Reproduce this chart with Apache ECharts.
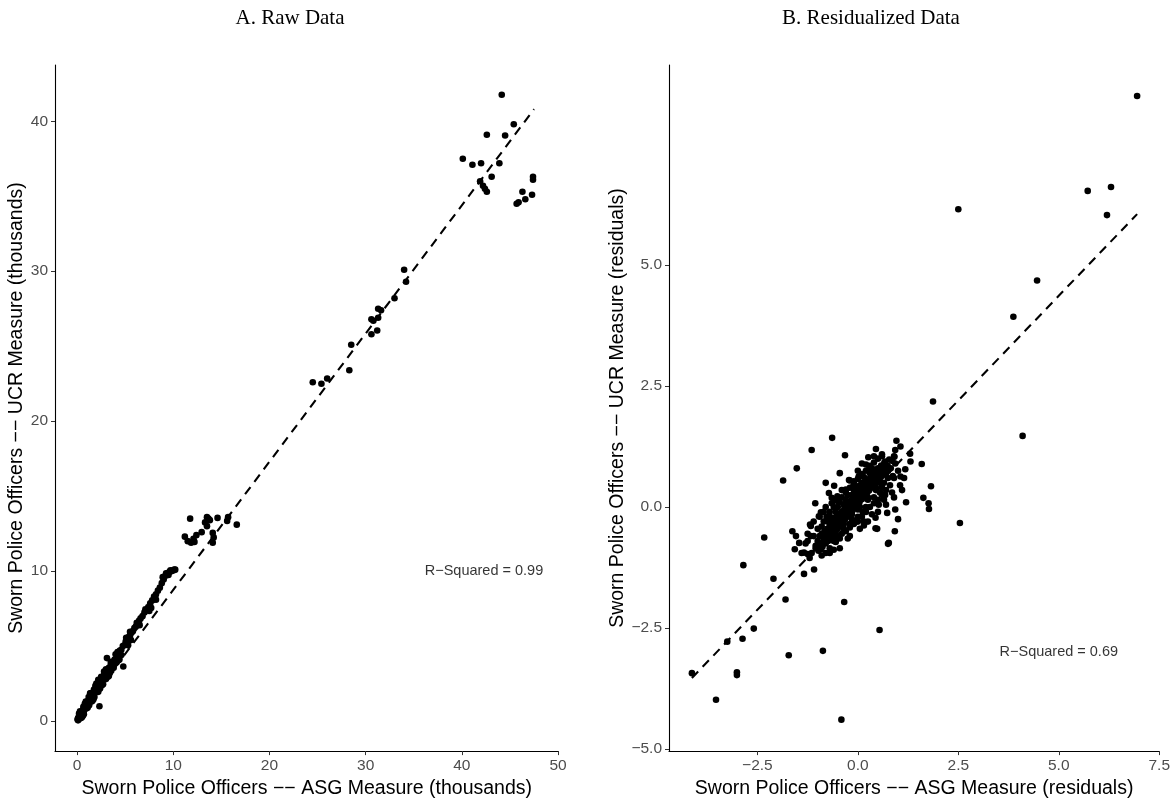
<!DOCTYPE html>
<html><head><meta charset="utf-8">
<script src="https://cdn.jsdelivr.net/npm/echarts@6/dist/echarts.min.js"></script>
<style>html,body{margin:0;padding:0;background:#fff}#c{width:1173px;height:804px}</style>
</head><body><div id="c"></div>
<script>
// ---------- Panel A: raw data (thousands) ----------
const rawLow = [
[0.05,0.10],[0.08,0.15],[0.10,0.05],[0.12,0.20],[0.15,0.12],[0.18,0.30],[0.20,0.18],[0.22,0.25],[0.25,0.35],[0.28,0.22],
[0.30,0.40],[0.33,0.30],[0.35,0.45],[0.38,0.36],[0.40,0.50],[0.42,0.38],[0.45,0.55],[0.48,0.45],[0.50,0.60],[0.52,0.48],
[0.55,0.65],[0.58,0.55],[0.60,0.72],[0.63,0.60],[0.66,0.80],[0.70,0.68],[0.72,0.85],[0.75,0.78],[0.78,0.90],[0.80,0.82],
[0.83,0.98],[0.86,0.88],[0.90,1.05],[0.92,0.95],[0.95,1.12],[0.98,1.00],[1.00,1.20],[1.03,1.08],[1.06,1.25],[1.10,1.12],
[1.13,1.32],[1.16,1.20],[1.20,1.40],[1.23,1.25],[1.26,1.45],[1.30,1.35],[1.33,1.55],[1.37,1.42],[1.40,1.60],[1.44,1.50],
[1.48,1.70],[1.52,1.55],[1.55,1.78],[1.60,1.65],[1.63,1.85],[1.68,1.72],[1.72,1.95],[1.76,1.80],[1.80,2.02],[1.85,1.90],
[1.90,2.15],[1.95,2.00],[2.00,2.25],[2.05,2.10],[2.10,2.35],[2.15,2.20],[2.20,2.45],[2.25,2.30],[2.30,2.55],[2.36,2.40],
[2.42,2.70],[2.48,2.55],[2.55,2.80],[2.60,2.65],[2.68,2.95],[2.75,2.82],[2.82,3.10],[2.90,2.95],[2.98,3.20],[3.05,3.10],
[3.12,3.35],[3.20,3.25],[3.30,3.55],[3.40,3.50],[3.50,3.75],[3.60,3.70],[3.70,3.95],[3.80,3.85],[3.90,4.10],[4.00,4.05],
[4.15,4.35],[4.30,4.40],[4.45,4.70],[4.60,4.75],[4.75,5.00],[4.90,5.05],[5.05,5.30],[5.20,5.35],[5.35,5.60],[5.50,5.70],
[5.65,5.90],[5.80,6.00],[5.95,6.20],[6.10,6.30],[6.30,6.50],[6.45,6.70],[6.60,6.85],[6.80,7.00],[7.00,7.25],[7.20,7.40],
[7.40,7.60],[7.60,7.85],[7.80,8.05],[8.00,8.30],[8.20,8.45],[8.40,8.70],[8.60,8.90],[8.80,9.20],[9.00,9.45],[9.20,9.70],
[9.40,9.85],[9.60,9.95],[9.80,10.00],[10.00,10.05],[9.50,9.75],[8.90,9.60],[10.20,10.10],[9.25,9.85],[9.70,10.05],[10.10,10.10],
[1.50,1.30],[1.80,1.60],[2.10,1.95],[2.60,2.40],[2.00,2.50],[1.20,1.60],[0.90,1.30],[3.30,3.00],[3.60,3.90],[2.80,3.30],
[4.20,4.60],[4.40,4.10],[0.70,0.45],[1.00,0.85],[1.70,1.45],[2.40,2.20],[3.00,2.80],[3.55,3.35],[4.10,3.90],[5.30,5.05],
[2.32,0.99],[3.10,4.20],[4.80,3.64],[5.50,5.95],[7.70,7.55],[8.20,8.10],[0.30,0.65],[0.60,0.35],[1.35,1.85],[2.20,2.75],
[0.20,0.50],[0.50,0.25],[0.80,1.15],[1.10,0.90],[1.40,1.85],[1.60,1.35],[1.90,2.35],[2.20,1.95],[2.50,2.95],[2.70,2.45],
[3.00,3.45],[3.20,2.95],[3.50,3.95],[3.80,3.55],[4.00,4.45],[4.30,4.05],[0.40,0.20],[0.65,0.95],[1.25,1.05],[1.75,2.10],
[2.35,2.15],[2.90,3.30],[3.40,3.20],[4.60,4.40],[5.10,5.55],[5.60,5.40],[6.20,6.55],[6.50,6.40],[7.10,7.45],[7.50,7.35]
];
const rawMid = [
[11.75,13.5],[13.5,13.6],[13.65,13.5],[14.6,13.55],[15.7,13.6],[15.6,13.35],[16.6,13.1],[13.3,13.25],[11.2,12.3],[11.85,11.9],
[12.1,12.15],[12.4,12.4],[12.95,12.6],[14.1,12.55],[14.2,12.25],[14.1,11.9],[13.5,13.0],[11.5,12.0],[12.2,11.95],[13.8,13.4]
];
const rawUpper = [
[34.0,30.1],[34.2,29.3],[33.0,28.2],[31.3,27.5],[31.6,27.4],[30.6,26.8],[31.3,26.9],[30.8,26.7],[31.2,26.05],[30.6,25.8],
[28.5,25.1],[28.3,23.4],[24.5,22.6],[25.4,22.5],[26.0,22.85]
];
const rawTop = [
[44.15,41.77],[42.6,39.1],[44.5,39.05],[45.4,39.8],[40.1,37.5],[41.1,37.1],[42.0,37.2],[43.9,37.2],[43.1,36.3],[41.9,36.0],
[42.2,35.7],[42.4,35.5],[42.6,35.3],[47.4,36.3],[47.4,36.1],[46.3,35.3],[45.7,34.5],[45.9,34.6],[46.6,34.8],[47.3,35.1]
];
const rawFitASG = [0.05, 47.5];
const rawFitUCR = [0.25, 40.8];
const rawXTicks = [0, 10, 20, 30, 40, 50];
const rawYTicks = [0, 10, 20, 30, 40];
const rawNote = [42.3, 10.0, 'R\u2212Squared = 0.99'];

// ---------- Panel B: residualized data ----------
const resCore = [
[-1.05,-0.85],[-1.0,-0.7],[-0.98,-0.9],[-0.95,-0.6],[-0.92,-0.78],[-0.9,-0.55],[-0.88,-0.82],[-0.85,-0.68],[-0.83,-0.5],[-0.8,-0.75],
[-0.78,-0.6],[-0.76,-0.45],[-0.74,-0.7],[-0.72,-0.55],[-0.7,-0.38],[-0.68,-0.62],[-0.66,-0.48],[-0.64,-0.32],[-0.62,-0.58],[-0.6,-0.42],
[-0.58,-0.28],[-0.56,-0.5],[-0.54,-0.36],[-0.52,-0.2],[-0.5,-0.45],[-0.48,-0.3],[-0.46,-0.15],[-0.44,-0.38],[-0.42,-0.25],[-0.4,-0.1],
[-0.38,-0.32],[-0.36,-0.18],[-0.34,-0.05],[-0.32,-0.26],[-0.3,-0.12],[-0.28,0.02],[-0.26,-0.2],[-0.24,-0.06],[-0.22,0.08],[-0.2,-0.14],
[-0.18,0.0],[-0.16,0.14],[-0.14,-0.08],[-0.12,0.06],[-0.1,0.2],[-0.08,-0.02],[-0.06,0.12],[-0.04,0.26],[-0.02,0.04],[0.0,0.18],
[0.02,0.32],[0.04,0.1],[0.06,0.24],[0.08,0.38],[0.1,0.16],[0.12,0.3],[0.14,0.44],[0.16,0.22],[0.18,0.36],[0.2,0.5],
[0.22,0.28],[0.24,0.42],[0.26,0.56],[0.28,0.34],[0.3,0.48],[0.32,0.62],[0.34,0.4],[0.36,0.54],[0.38,0.68],[0.4,0.46],
[0.42,0.6],[0.44,0.74],[0.46,0.52],[0.48,0.66],[0.5,0.8],[0.52,0.58],[0.55,0.72],[0.58,0.86],[0.6,0.64],[0.63,0.78],
[0.66,0.92],[0.7,0.7],[0.74,0.85],[0.78,0.98],[0.82,0.8],[0.86,0.95],[0.9,1.05],
[-0.7,-0.2],[-0.5,0.0],[-0.3,0.15],[-0.1,0.35],[0.1,0.5],[0.3,0.7],[-0.6,-0.7],[-0.4,-0.55],[-0.2,-0.35],[0.0,-0.2],
[0.2,0.0],[0.4,0.2],[0.6,0.4],[-0.9,-0.4],[-0.55,-0.1],[0.15,0.62],[0.0,-0.05],[0.25,0.15],[0.45,0.35],[-0.15,-0.25],
[-0.35,-0.45],[-0.75,-0.3],[0.05,0.45],[0.35,0.8],[0.65,0.5],[-0.25,0.25],[-0.45,0.1],[0.55,0.3],[-0.05,-0.3],[-1.1,-0.6],
[-1.15,-0.95],[0.75,0.6],
[-1.0,-0.45],[-0.85,-0.3],[-0.7,-0.1],[-0.6,0.0],[-0.5,0.12],[-0.4,0.2],[-0.3,0.3],[-0.2,0.4],[-0.1,0.48],[0.0,0.58],
[0.1,0.68],[0.2,0.75],[0.3,0.85],[0.4,0.92],[0.5,1.0],[0.6,1.05],[-0.78,-0.2],[-0.65,0.08],[-0.35,0.05],[-0.15,0.25],
[-0.8,-0.95],[-0.7,-0.85],[-0.55,-0.72],[-0.45,-0.65],[-0.3,-0.5],[-0.2,-0.42],[-0.1,-0.35],[0.0,-0.3],[0.1,-0.2],[0.2,-0.1],
[0.3,0.0],[0.4,0.08],[0.5,0.15],[0.6,0.25],[0.7,0.35],[0.8,0.45],[0.9,0.6],[-0.6,-0.88],[0.35,-0.15],[0.15,-0.3],
[0.65,0.15],[0.85,0.3],[-0.25,-0.65],[1.0,0.75],
[-0.95,-0.75],[-0.85,-0.55],[-0.75,-0.65],[-0.65,-0.4],[-0.55,-0.55],[-0.45,-0.25],[-0.35,-0.35],[-0.25,-0.1],[-0.15,-0.15],[-0.05,0.05],
[0.05,0.0],[0.15,0.25],[0.25,0.2],[0.35,0.45],[0.45,0.4],[0.55,0.6],[0.65,0.7],[0.75,0.75],[-0.9,-1.0],[-0.7,-0.95],
[-1.25,-0.55],[-1.1,-0.3],[-0.95,-0.2],[-0.8,0.0],[-0.6,0.15],[-0.4,0.35],[-0.2,0.55],[0.0,0.75],[0.2,0.88],[0.4,1.05],
[-0.45,-0.85],[-0.2,-0.6],[0.05,-0.45],[0.25,-0.3],[0.5,-0.1],[0.7,0.05],[0.9,0.2],[1.05,0.45],[1.15,0.6],[-1.3,-0.75],
[-0.5,-0.62],[-0.02,0.4],[0.28,0.58],[-0.32,-0.02],[0.58,0.48],[-0.62,-0.22],[0.12,-0.1],[-0.12,0.42],[0.68,0.25],[-0.85,-0.1]
];
const resSpread = [
[1.87,2.18],[-0.64,1.43],[-1.15,1.18],[-0.32,1.07],[-1.52,0.80],[-1.86,0.55],[0.96,1.37],[0.93,1.18],[1.06,1.25],[0.91,1.04],
[0.26,1.03],[0.60,1.09],[0.29,0.82],[1.31,0.94],[1.59,0.89],[1.18,0.78],[0.87,0.64],[1.06,0.63],[1.82,0.43],[1.63,0.19],
[1.76,0.08],[1.77,-0.04],[0.73,0.84],[0.68,0.94],[0.93,0.90],[-0.59,0.44],[-0.72,0.29],[-1.06,0.08],[-0.92,-0.11],[-1.19,-0.36],
[-1.63,-0.50],[-1.54,-0.60],[-1.46,-0.74],[-1.25,-0.70],[0.48,-0.45],[0.92,-0.50],[0.77,-0.74],[0.93,-0.05],[0.73,-0.12],[0.52,0.05],
[0.15,-0.38],[0.44,-0.22],[0.02,0.63],[-0.22,0.56],[-0.10,0.53],[-0.30,0.36],[-0.51,0.22],[-2.33,-0.63],[-2.10,-1.48],[-1.34,-1.38],
[-1.09,-1.29],[2.54,-0.33],[0.75,-0.76],[0.44,-0.44],[-1.57,-0.87],[-1.34,-0.94],[-1.25,-0.97],[-1.05,-0.80],[-0.92,-0.87],[-1.17,-0.60],
[-0.97,-0.19],[-1.17,-0.39],[-0.65,0.19],[-2.85,-1.20],[-1.40,-0.95],[-1.20,-1.05],[1.10,0.35],[1.20,0.10],[1.00,-0.25],[-0.80,0.50],
[-0.45,0.70],[0.10,0.90],[0.45,1.20],[1.30,1.10]
];
const resTail = [
[-4.13,-3.43],[-3.53,-3.98],[-3.25,-2.78],[-2.87,-2.72],[-2.59,-2.51],[-3.01,-3.41],[-3.01,-3.47],[-1.80,-1.91],[-1.72,-3.06],[-0.87,-2.97],
[-0.34,-1.96],[-0.41,-4.39],[0.54,-2.54],
[6.95,8.49],[5.72,6.53],[6.30,6.61],[6.20,6.03],[2.50,6.15],[4.46,4.68],[3.87,3.93],[4.10,1.47]
];
const resFitASG = [-4.13, 6.95];
const resFitUCR = [-3.53, 6.05];
const resXTicks = [-2.5, 0, 2.5, 5, 7.5];
const resYTicks = [-5, -2.5, 0, 2.5, 5];
const resNote = [5.0, -3.0, 'R\u2212Squared = 0.69'];

// ---------- chart ----------
const SANS = 'Liberation Sans, Arial, sans-serif';
const fmt1 = v => v.toFixed(1).replace('-', '\u2212');
const fmt0 = v => String(v).replace('-', '\u2212');

function xAxisCfg(grid, min, max, ticks, f, name, gap) {
  return {
    gridIndex: grid, type: 'value', min: min, max: max,
    axisLine: {onZero: false, lineStyle: {color: '#000', width: 1.1}},
    axisTick: {customValues: ticks, length: 4, lineStyle: {color: '#333', width: 1}},
    axisLabel: {customValues: ticks, formatter: f, color: '#4d4d4d', fontSize: 15.5, fontFamily: SANS, margin: 7},
    splitLine: {show: false},
    name: name, nameLocation: 'middle', nameGap: gap,
    nameTextStyle: {color: '#000', fontSize: 19.5, fontFamily: SANS}
  };
}
function yAxisCfg(grid, min, max, ticks, f, name, gap) {
  return {
    gridIndex: grid, type: 'value', min: min, max: max,
    axisLine: {show: true, onZero: false, lineStyle: {color: '#000', width: 1.1}},
    axisTick: {show: true, customValues: ticks, length: 4, lineStyle: {color: '#333', width: 1}},
    axisLabel: {customValues: ticks, formatter: f, color: '#4d4d4d', fontSize: 15.5, fontFamily: SANS, margin: 7},
    splitLine: {show: false},
    name: name, nameLocation: 'middle', nameGap: gap, nameRotate: 90,
    nameTextStyle: {color: '#000', fontSize: 19.5, fontFamily: SANS}
  };
}
function pts(grid, data) {
  return {type: 'scatter', xAxisIndex: grid, yAxisIndex: grid, data: data,
    symbol: 'circle', symbolSize: 6.6, itemStyle: {color: '#000', opacity: 1}, silent: true, z: 2};
}
function fit(grid, xs, ys) {
  return {type: 'line', xAxisIndex: grid, yAxisIndex: grid, data: xs.map((x, i) => [x, ys[i]]),
    symbol: 'none', lineStyle: {color: '#000', width: 2.1, type: [9, 6.5]}, silent: true, z: 3};
}
function note(grid, n) {
  return {type: 'scatter', xAxisIndex: grid, yAxisIndex: grid, data: [[n[0], n[1]]], symbolSize: 0,
    label: {show: true, position: 'inside', formatter: n[2], color: '#000', fontSize: 14.5, fontFamily: SANS}, silent: true, z: 4};
}

const chart = echarts.init(document.getElementById('c'), null, {renderer: 'canvas'});
chart.setOption({
  animation: false,
  backgroundColor: '#fff',
  title: [
    {text: 'A. Raw Data', left: 285, top: 3, textAlign: 'center',
     textStyle: {fontFamily: 'Liberation Serif, serif', fontWeight: 'normal', fontSize: 21, color: '#000'}},
    {text: 'B. Residualized Data', left: 866, top: 3, textAlign: 'center',
     textStyle: {fontFamily: 'Liberation Serif, serif', fontWeight: 'normal', fontSize: 21, color: '#000'}}
  ],
  grid: [
    {left: 55, top: 65, width: 503.5, height: 692},
    {left: 669, top: 65, width: 495.5, height: 692}
  ],
  xAxis: [
    xAxisCfg(0, -2.3, 50.05, rawXTicks, fmt0, 'Sworn Police Officers \u2212\u2212 ASG Measure (thousands)', 25),
    xAxisCfg(1, -4.70, 7.50, resXTicks, fmt1, 'Sworn Police Officers \u2212\u2212 ASG Measure (residuals)', 25)
  ],
  yAxis: [
    yAxisCfg(0, -2.0, 43.75, rawYTicks, fmt0, 'Sworn Police Officers \u2212\u2212 UCR Measure (thousands)', 27),
    yAxisCfg(1, -5.04, 9.13, resYTicks, fmt1, 'Sworn Police Officers \u2212\u2212 UCR Measure (residuals)', 39)
  ],
  series: [
    pts(0, rawLow), pts(0, rawMid), pts(0, rawUpper), pts(0, rawTop),
    fit(0, rawFitASG, rawFitUCR), note(0, rawNote),
    pts(1, resCore), pts(1, resSpread), pts(1, resTail),
    fit(1, resFitASG, resFitUCR), note(1, resNote)
  ]
});
</script>
</body></html>
